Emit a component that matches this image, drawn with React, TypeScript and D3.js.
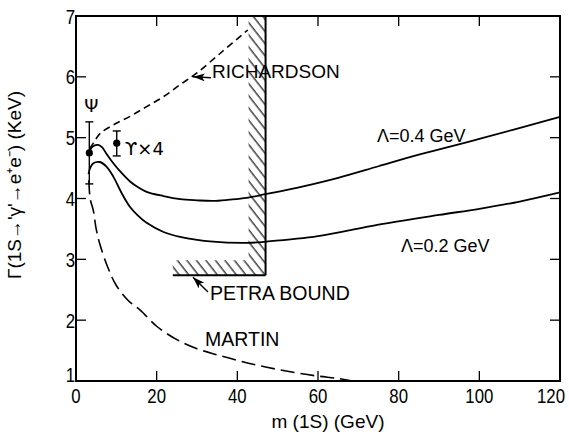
import React from "react";
import * as d3 from "d3";

const W = 569;
const H = 437;

const xTicks = [0, 20, 40, 60, 80, 100, 120];
const yTicks = [1, 2, 3, 4, 5, 6, 7];

// Λ = 0.4 GeV
const upperMass = [3.3, 3.7, 4.5, 5.5, 6.5, 7.5, 9.25, 11.3, 13.4, 15.5, 17.5, 21.7, 25.8, 30, 34, 38, 42.3, 46.9, 55, 65, 75, 85, 100, 120];
const upperWidth = [4.72, 4.82, 4.87, 4.88, 4.84, 4.74, 4.58, 4.42, 4.28, 4.18, 4.11, 4.04, 3.99, 3.97, 3.96, 3.98, 4.01, 4.07, 4.18, 4.34, 4.53, 4.72, 4.98, 5.34];

// Λ = 0.2 GeV
const lowerMass = [3.1, 3.5, 4.3, 5.9, 7.6, 9.25, 11.3, 13.4, 15.5, 17.5, 21.7, 25.8, 34, 42.3, 47, 60, 75, 90, 100, 110, 120];
const lowerWidth = [4.4, 4.5, 4.58, 4.6, 4.52, 4.36, 4.09, 3.86, 3.71, 3.6, 3.45, 3.37, 3.29, 3.27, 3.29, 3.38, 3.57, 3.73, 3.83, 3.95, 4.1];

// Richardson
const richMass = [3.4, 4.3, 6, 9.25, 13.4, 17.5, 21.6, 25.8, 29.9, 36, 42.6];
const richWidth = [4.82, 4.91, 5.07, 5.21, 5.35, 5.51, 5.67, 5.87, 6.06, 6.4, 6.77];

// Martin
const martinMass = [3.2, 3.5, 4.3, 5, 6, 8, 10, 13, 16, 20, 25, 30, 35, 40, 45, 50, 55, 60, 65, 68.5];
const martinWidth = [4.3, 4.0, 3.8, 3.5, 3.23, 2.85, 2.57, 2.32, 2.16, 1.9, 1.68, 1.53, 1.43, 1.34, 1.26, 1.19, 1.13, 1.08, 1.04, 1.0];

// data points
const pointLabels = ["Ψ", "ϒ×4"];
const pointMass = [3.3, 10.1];
const pointWidth = [4.75, 4.91];
const pointLow = [4.24, 4.7];
const pointHigh = [5.26, 5.11];

// PETRA bound
const petraMass = 47;
const petraMassStart = 24;
const petraWidth = 2.74;

const labelFont = "'Liberation Sans', Arial, sans-serif";
const tickFont = "'Liberation Sans', Arial, sans-serif";

export default function App() {
  const x = d3.scaleLinear().domain([0, 120]).range([76, 560]);
  const y = d3.scaleLinear().domain([1, 7]).range([381, 16]);

  const line = d3
    .line<[number, number]>()
    .x((d) => x(d[0]))
    .y((d) => y(d[1]))
    .curve(d3.curveCatmullRom.alpha(0.5));

  const zip = (a: number[], b: number[]) => a.map((v, i) => [v, b[i]] as [number, number]);

  const px = x(petraMass);
  const py = y(petraWidth);
  const hatchBand = 17;
  const hatchPath = `M${px - hatchBand},${y(7)} H${px} V${py} H${x(petraMassStart)} V${py - 15} H${px - hatchBand} Z`;

  const richInterp = d3.scaleLinear().domain(richMass).range(richWidth);
  const arrowTipX = x(29);
  const arrowTipY = y(richInterp(29)) + 1;

  const tl = 10;

  return (
    <svg width={W} height={H} style={{ position: "absolute", left: 0, top: 0, background: "#fff" }}>
      <defs>
        <pattern id="hatch" patternUnits="userSpaceOnUse" width="7.5" height="20" patternTransform="rotate(-38)">
          <line x1="2" y1="-1" x2="2" y2="21" stroke="#000" strokeWidth="1.1" />
        </pattern>
        <marker id="arrow" viewBox="0 0 12 8" refX="12" refY="4" markerWidth="12" markerHeight="8" markerUnits="userSpaceOnUse" orient="auto-start-reverse">
          <path d="M12,4 L0,0 L3,4 L0,8 Z" fill="#000" />
        </marker>
      </defs>

      {/* hatched PETRA region */}
      <path d={hatchPath} fill="url(#hatch)" stroke="none" />
      <line x1={px} y1={y(7)} x2={px} y2={py} stroke="#000" strokeWidth={2} />
      <line x1={x(petraMassStart)} y1={py} x2={px} y2={py} stroke="#000" strokeWidth={2} />

      {/* frame */}
      <rect x={x(0)} y={y(7)} width={x(120) - x(0)} height={y(1) - y(7)} fill="none" stroke="#000" strokeWidth={2} />
      {xTicks.slice(1, -1).map((t) => (
        <g key={"xt" + t}>
          <line x1={x(t)} x2={x(t)} y1={y(1)} y2={y(1) - tl} stroke="#000" strokeWidth={1.3} />
          <line x1={x(t)} x2={x(t)} y1={y(7)} y2={y(7) + tl} stroke="#000" strokeWidth={1.3} />
        </g>
      ))}
      {yTicks.slice(1, -1).map((t) => (
        <g key={"yt" + t}>
          <line x1={x(0)} x2={x(0) + tl} y1={y(t)} y2={y(t)} stroke="#000" strokeWidth={1.3} />
          <line x1={x(120)} x2={x(120) - tl} y1={y(t)} y2={y(t)} stroke="#000" strokeWidth={1.3} />
        </g>
      ))}

      {/* tick labels (condensed) */}
      {xTicks.map((t, i) => (
        <text
          key={"xl" + t}
          transform={`translate(${x(t) - (i === xTicks.length - 1 ? 9 : 0)},403) scale(0.8,1)`}
          textAnchor="middle"
          fontFamily={tickFont}
          fontSize={21}
        >
          {t}
        </text>
      ))}
      {yTicks.map((t, i) => (
        <text
          key={"yl" + t}
          transform={`translate(75,${i === 0 ? y(t) + 1 : y(t) + 7.5}) scale(0.8,1)`}
          textAnchor="end"
          fontFamily={tickFont}
          fontSize={21}
        >
          {t}
        </text>
      ))}

      {/* axis titles */}
      <text x={(x(0) + x(120)) / 2 + 10} y={428} textAnchor="middle" fontFamily={labelFont} fontSize={19}>
        m (1S) (GeV)
      </text>
      <text transform={`translate(21,${185}) rotate(-90)`} textAnchor="middle" fontFamily={labelFont} fontSize={19}>
        Γ(1S→'γ'→e⁺e⁻) (KeV)
      </text>

      {/* curves */}
      <path d={line(zip(upperMass, upperWidth)) || ""} fill="none" stroke="#000" strokeWidth={1.8} />
      <path d={line(zip(lowerMass, lowerWidth)) || ""} fill="none" stroke="#000" strokeWidth={1.8} />
      <path d={line(zip(richMass, richWidth)) || ""} fill="none" stroke="#000" strokeWidth={1.6} strokeDasharray="7 4.5" />
      <path d={line(zip(martinMass, martinWidth)) || ""} fill="none" stroke="#000" strokeWidth={1.6} strokeDasharray="14 6" />

      {/* data points */}
      {pointMass.map((m, i) => (
        <g key={"p" + i}>
          <line x1={x(m)} x2={x(m)} y1={y(pointLow[i])} y2={y(pointHigh[i])} stroke="#000" strokeWidth={1.4} />
          <line x1={x(m) - 4} x2={x(m) + 4} y1={y(pointLow[i])} y2={y(pointLow[i])} stroke="#000" strokeWidth={1.4} />
          <line x1={x(m) - 4} x2={x(m) + 4} y1={y(pointHigh[i])} y2={y(pointHigh[i])} stroke="#000" strokeWidth={1.4} />
          <circle cx={x(m)} cy={y(pointWidth[i])} r={3.6} fill="#000" />
        </g>
      ))}
      <text x={x(pointMass[0]) - 5} y={112} fontFamily={"'DejaVu Sans', sans-serif"} fontSize={18}>
        {pointLabels[0]}
      </text>
      <text x={x(pointMass[1]) + 8} y={y(pointWidth[1]) + 12} fontFamily={"'DejaVu Sans', sans-serif"} fontSize={18}>
        {pointLabels[1]}
      </text>

      {/* annotations */}
      <line x1={arrowTipX} y1={arrowTipY} x2={211} y2={arrowTipY + 1} stroke="#000" strokeWidth={1.4} markerStart="url(#arrow)" />
      <text x={212} y={78} fontFamily={labelFont} fontSize={19}>RICHARDSON</text>

      <line x1={x(29)} y1={py + 2} x2={208} y2={292} stroke="#000" strokeWidth={1.4} markerStart="url(#arrow)" />
      <text x={210} y={300} fontFamily={labelFont} fontSize={19.5}>PETRA BOUND</text>

      <text x={205} y={346} fontFamily={labelFont} fontSize={19.5}>MARTIN</text>

      <text x={377} y={142} fontFamily={labelFont} fontSize={18}>Λ=0.4 GeV</text>
      <text x={401} y={252} fontFamily={labelFont} fontSize={18}>Λ=0.2 GeV</text>
    </svg>
  );
}
